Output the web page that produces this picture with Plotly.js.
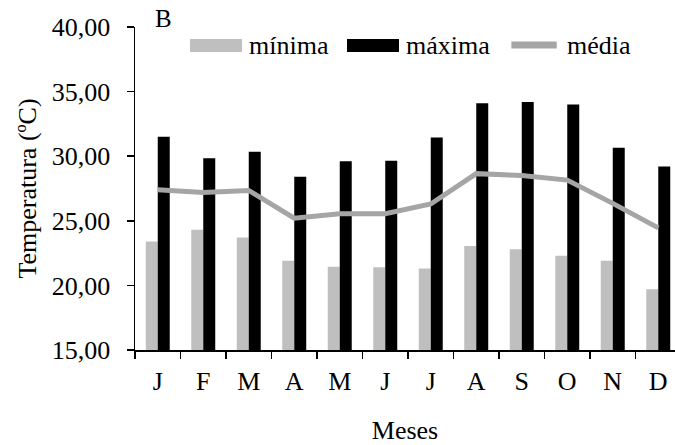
<!DOCTYPE html>
<html>
<head>
<meta charset="utf-8">
<script src="https://cdn.plot.ly/plotly-3.0.1.min.js"></script>
<style>
  html, body { margin: 0; padding: 0; background: #fff; }
  #chart { width: 675px; height: 445px; }
</style>
</head>
<body>
<div id="chart"></div>
<script>
// Monthly temperatures (°C)
const months = ["J", "F", "M", "A", "M", "J", "J", "A", "S", "O", "N", "D"];
const tempMin = [23.4, 24.3, 23.7, 21.9, 21.45, 21.4, 21.3, 23.05, 22.8, 22.3, 21.9, 19.7];
const tempMax = [31.5, 29.85, 30.35, 28.4, 29.6, 29.65, 31.45, 34.1, 34.2, 34.0, 30.65, 29.2];
const tempMean = [27.4, 27.2, 27.35, 25.2, 25.55, 25.55, 26.3, 28.65, 28.5, 28.15, 26.35, 24.45];

const seriesNames = ["mínima", "máxima", "média"];
const panelLabel = "B";
const xTitle = "Meses";
const yTitle = "Temperatura (ºC)";

const idx = months.map((_, i) => i);
const FONT = "Times New Roman";
const FS = 26;
const GRAY_BAR = "#bfbfbf";
const GRAY_LINE = "#a5a5a5";

const traces = [
  { type: "bar", name: seriesNames[0], x: idx, y: tempMin,
    marker: { color: GRAY_BAR }, showlegend: false, hoverinfo: "skip" },
  { type: "bar", name: seriesNames[1], x: idx, y: tempMax,
    marker: { color: "#000000" }, showlegend: false, hoverinfo: "skip" },
  { type: "scatter", mode: "lines", name: seriesNames[2], x: idx, y: tempMean,
    line: { color: GRAY_LINE, width: 5 }, showlegend: false, hoverinfo: "skip" }
];

// Legend drawn as wide swatches with labels along the top of the plot
const legY = 0.944;
const shapes = [
  { type: "rect", xref: "paper", yref: "paper", x0: 0.1019, x1: 0.1981, y0: 0.9226, y1: 0.9628,
    fillcolor: GRAY_BAR, line: { width: 0 } },
  { type: "rect", xref: "paper", yref: "paper", x0: 0.3926, x1: 0.4889, y0: 0.9226, y1: 0.9628,
    fillcolor: "#000000", line: { width: 0 } },
  { type: "path", xref: "paper", yref: "paper",
    path: "M0.697,0.944 L0.781,0.944",
    line: { color: GRAY_LINE, width: 7 } }
];
const legendTextX = [0.2074, 0.4981, 0.7963];
const annotations = seriesNames.map((n, i) => ({
  text: n, xref: "paper", yref: "paper", x: legendTextX[i], y: legY,
  xanchor: "left", yanchor: "middle", showarrow: false,
  font: { size: FS, color: "#000" }
}));
annotations.push({
  text: panelLabel, xref: "paper", yref: "paper", x: 0.033, y: 1.025,
  xanchor: "left", yanchor: "middle", showarrow: false,
  font: { size: 25, color: "#000" }
});

const layout = {
  width: 675, height: 445,
  margin: { l: 135, r: 0, t: 27, b: 95 },
  paper_bgcolor: "#fff", plot_bgcolor: "#fff",
  font: { family: FONT, size: FS, color: "#000" },
  separators: ",.",
  barmode: "group", bargap: 0.473, bargroupgap: 0,
  showlegend: false,
  xaxis: {
    type: "category",
    range: [-0.5, 11.368],
    tickmode: "array", tickvals: idx, ticktext: months,
    tickson: "boundaries",
    ticks: "outside", ticklen: 7, tickwidth: 1.5, tickcolor: "#000",
    ticklabelstandoff: 7,
    showline: true, linecolor: "#000", linewidth: 1.5,
    showgrid: false, zeroline: false,
    tickfont: { size: FS },
    title: { text: xTitle, standoff: 30, font: { size: FS } }
  },
  yaxis: {
    range: [15, 40], dtick: 5, tick0: 15,
    tickformat: ".2f",
    ticks: "outside", ticklen: 7, tickwidth: 1.5, tickcolor: "#000",
    ticklabelstandoff: 11,
    showline: true, linecolor: "#000", linewidth: 1.5,
    showgrid: false, zeroline: false,
    tickfont: { size: FS },
    title: { text: yTitle, standoff: 7, font: { size: FS } }
  },
  shapes: shapes,
  annotations: annotations
};

Plotly.newPlot("chart", traces, layout, { displayModeBar: false, staticPlot: true });
</script>
</body>
</html>
